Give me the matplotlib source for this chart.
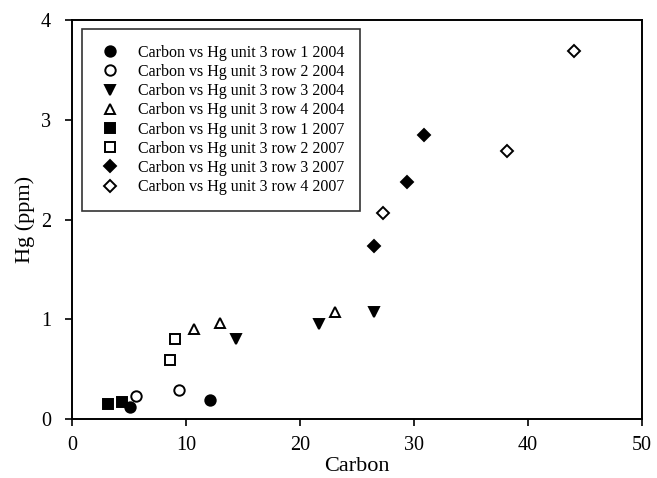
import matplotlib
matplotlib.use("Agg")
import matplotlib.pyplot as plt

plt.rcParams['font.family'] = ['Liberation Serif', 'DejaVu Serif']

labels = [
    "Carbon vs Hg unit 3 row 1 2004",
    "Carbon vs Hg unit 3 row 2 2004",
    "Carbon vs Hg unit 3 row 3 2004",
    "Carbon vs Hg unit 3 row 4 2004",
    "Carbon vs Hg unit 3 row 1 2007",
    "Carbon vs Hg unit 3 row 2 2007",
    "Carbon vs Hg unit 3 row 3 2007",
    "Carbon vs Hg unit 3 row 4 2007",
]
r1_2004_x = [5.1, 12.1]
r1_2004_y = [0.12, 0.19]
r2_2004_x = [5.6, 9.4]
r2_2004_y = [0.23, 0.29]
r3_2004_x = [14.4, 21.7, 26.5]
r3_2004_y = [0.80, 0.95, 1.07]
r4_2004_x = [10.7, 13.0, 23.1]
r4_2004_y = [0.90, 0.96, 1.07]
r1_2007_x = [3.2, 4.4]
r1_2007_y = [0.155, 0.17]
r2_2007_x = [8.6, 9.0]
r2_2007_y = [0.59, 0.80]
r3_2007_x = [26.5, 29.4, 30.9]
r3_2007_y = [1.73, 2.38, 2.85]
r4_2007_x = [27.3, 38.2, 44.0]
r4_2007_y = [2.07, 2.69, 3.69]

series = [
    (r1_2004_x, r1_2004_y, 'o', 'black'),
    (r2_2004_x, r2_2004_y, 'o', 'white'),
    (r3_2004_x, r3_2004_y, 'v', 'black'),
    (r4_2004_x, r4_2004_y, '^', 'white'),
    (r1_2007_x, r1_2007_y, 's', 'black'),
    (r2_2007_x, r2_2007_y, 's', 'white'),
    (r3_2007_x, r3_2007_y, 'D', 'black'),
    (r4_2007_x, r4_2007_y, 'D', 'white'),
]

fig = plt.figure(figsize=(6.57, 4.78), dpi=100)
ax = fig.add_axes([0.1096, 0.1234, 0.8675, 0.8346])

for (x, y, m, fc), lab in zip(series, labels):
    size = 7.5 if m != 'D' else 6.5
    ax.plot(x, y, linestyle='none', marker=m, markersize=size,
            markerfacecolor=fc, markeredgecolor='black', markeredgewidth=1.4,
            label=lab)

ax.set_xlim(0, 50)
ax.set_ylim(0, 4)
ax.set_xticks([0, 10, 20, 30, 40, 50])
ax.set_yticks([0, 1, 2, 3, 4])
ax.tick_params(direction='out', length=5, width=1.2, labelsize=14.5, colors='black')
ax.tick_params(axis='x', pad=7)
ax.tick_params(axis='y', pad=10)
for s in ax.spines.values():
    s.set_linewidth(1.4)
ax.set_xlabel("Carbon", fontsize=16, labelpad=2)
ax.set_ylabel("Hg (ppm)", fontsize=16, labelpad=4)

leg = ax.legend(loc='upper left', bbox_to_anchor=(0.017, 0.978), fontsize=11.5,
                frameon=True, fancybox=False, edgecolor='black',
                handletextpad=1.0, labelspacing=0.2, borderpad=1.0,
                handlelength=1.5, borderaxespad=0.0)
leg.get_frame().set_linewidth(1.2)

fig.savefig("out.png", dpi=100)
